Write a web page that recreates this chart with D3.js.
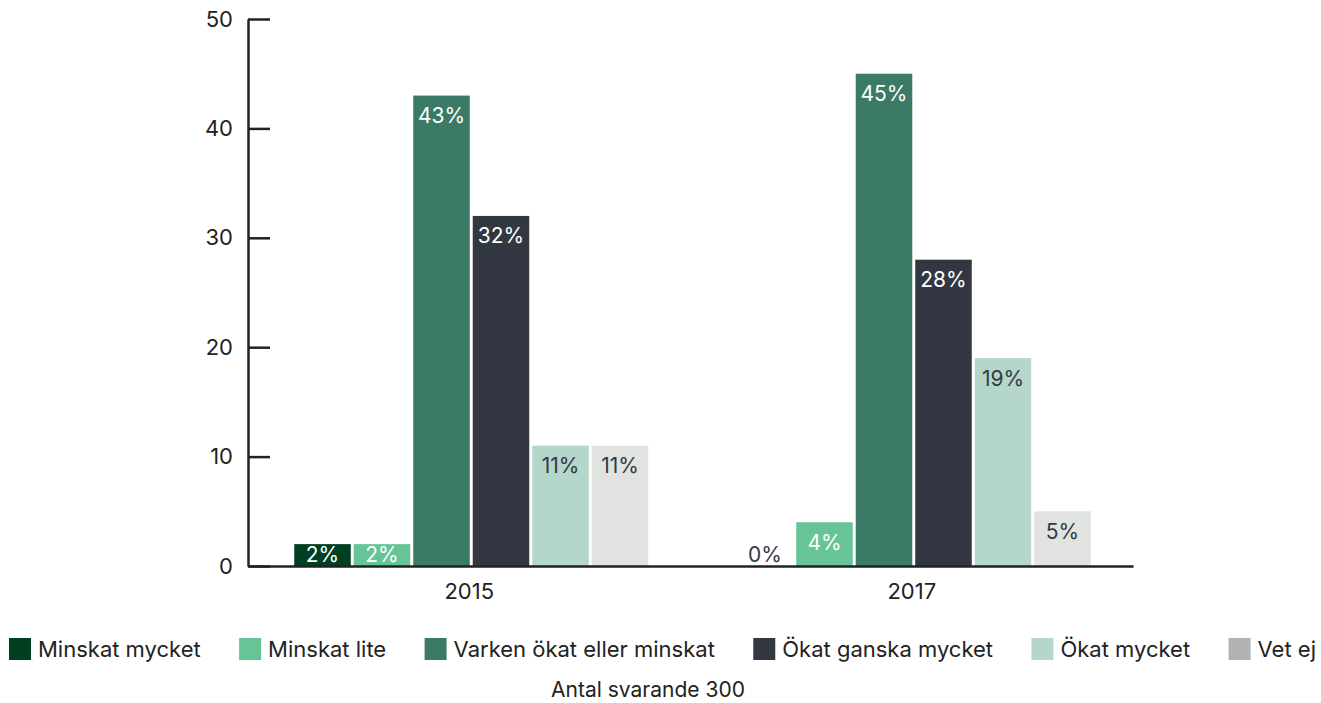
<!DOCTYPE html>
<html>
<head>
    <meta charset="utf-8">
    <script src="https://d3js.org/d3.v7.min.js"></script>
    <style>
        body { margin: 0; background: #fff; overflow: hidden; }
        text { font-family: "Inter", "Noto Sans", sans-serif; }
    </style>
</head>
<body>
<div id="chart"></div>
<script>
    // data
    var years = ["2015", "2017"];
    var categories = ["Minskat mycket", "Minskat lite", "Varken ökat eller minskat",
        "Ökat ganska mycket", "Ökat mycket", "Vet ej"];
    var values2015 = [2, 2, 43, 32, 11, 11];
    var values2017 = [0, 4, 45, 28, 19, 5];
    var yTicks = [0, 10, 20, 30, 40, 50];
    var footnote = "Antal svarande 300";

    var barColors = ["#003f22", "#66c496", "#3a7a66", "#323741", "#b5d6cb", "#e1e3e1"];
    var legendColors = ["#003f22", "#66c496", "#3a7a66", "#323741", "#b5d6cb", "#b0b2b3"];
    var labelColors = ["#fff", "#fff", "#fff", "#fff", "#333a44", "#333a44"];

    var W = 1321, H = 703;
    var margin = { top: 19, left: 248, right: 188, bottom: 137 };
    var width = W - margin.left - margin.right,
        height = H - margin.top - margin.bottom;

    var svg = d3.select("#chart").append("svg")
        .attr("width", W).attr("height", H)
        .style("display", "block");
    var g = svg.append("g")
        .attr("transform", "translate(" + margin.left + "," + margin.top + ")");

    var rows = [];
    years.forEach(function (yr, i) {
        var vals = i == 0 ? values2015 : values2017;
        categories.forEach(function (c, j) {
            rows.push({ year: yr, cat: c, idx: j, value: vals[j] });
        });
    });

    var x0 = d3.scaleBand().domain(years).range([0, width]).padding(0);
    var x1 = d3.scaleBand().domain(categories)
        .range([0, x0.bandwidth() * 0.8]).paddingInner(0.05);
    var groupOffset = x0.bandwidth() * 0.1 + 2;
    var y = d3.scaleLinear().domain([0, 50]).range([height, 0]);

    // y axis
    var yAxis = g.append("g")
        .call(d3.axisLeft(y).tickValues(yTicks).tickSizeInner(-22).tickSizeOuter(0).tickPadding(15));
    yAxis.select(".domain").attr("stroke", "#222").attr("stroke-width", 2.5);
    yAxis.selectAll(".tick line").attr("stroke", "#222").attr("stroke-width", 2.5);
    yAxis.selectAll(".tick text").attr("font-size", 22).attr("fill", "#222");

    // bars
    g.selectAll("rect.bar")
        .data(rows)
        .enter().append("rect")
        .attr("class", "bar")
        .attr("x", function (d) { return x0(d.year) + groupOffset + x1(d.cat); })
        .attr("y", function (d) { return y(d.value); })
        .attr("width", x1.bandwidth())
        .attr("height", function (d) { return height - y(d.value); })
        .attr("fill", function (d) { return barColors[d.idx]; });

    // value labels
    g.selectAll("text.val")
        .data(rows)
        .enter().append("text")
        .attr("class", "val")
        .attr("x", function (d) { return x0(d.year) + groupOffset + x1(d.cat) + x1.bandwidth() / 2; })
        .attr("y", function (d) { return Math.min(y(d.value) + 20, height - 12); })
        .attr("dy", "0.36em")
        .attr("text-anchor", "middle")
        .attr("font-size", 21)
        .attr("fill", function (d) { return d.value == 0 ? "#333a44" : labelColors[d.idx]; })
        .text(function (d) { return d.value + "%"; });

    // x axis
    var xAxis = g.append("g")
        .attr("transform", "translate(0," + height + ")")
        .call(d3.axisBottom(x0).tickSize(0).tickPadding(17));
    xAxis.select(".domain").attr("stroke", "#222").attr("stroke-width", 2.5);
    xAxis.selectAll(".tick text").attr("font-size", 22).attr("fill", "#222");

    // legend, spread between x=9 and x=1316
    var legend = svg.append("g").attr("transform", "translate(9,649)");
    var items = [], total = 0;
    categories.forEach(function (c, i) {
        var item = legend.append("g");
        item.append("rect").attr("x", 0).attr("y", -11).attr("width", 22).attr("height", 22)
            .attr("fill", legendColors[i]);
        var t = item.append("text").attr("x", 29).attr("dy", "0.36em")
            .attr("font-size", 22).attr("fill", "#222").text(c);
        var w = 29 + t.node().getComputedTextLength();
        items.push({ g: item, w: w });
        total += w;
    });
    var gap = (1307 - total) / (items.length - 1);
    var pos = 0;
    items.forEach(function (it) {
        it.g.attr("transform", "translate(" + pos + ",0)");
        pos += it.w + gap;
    });

    svg.append("text")
        .attr("x", 648).attr("y", 689)
        .attr("dy", "0.36em")
        .attr("text-anchor", "middle")
        .attr("font-size", 21).attr("fill", "#222")
        .text(footnote);
</script>
</body>
</html>
